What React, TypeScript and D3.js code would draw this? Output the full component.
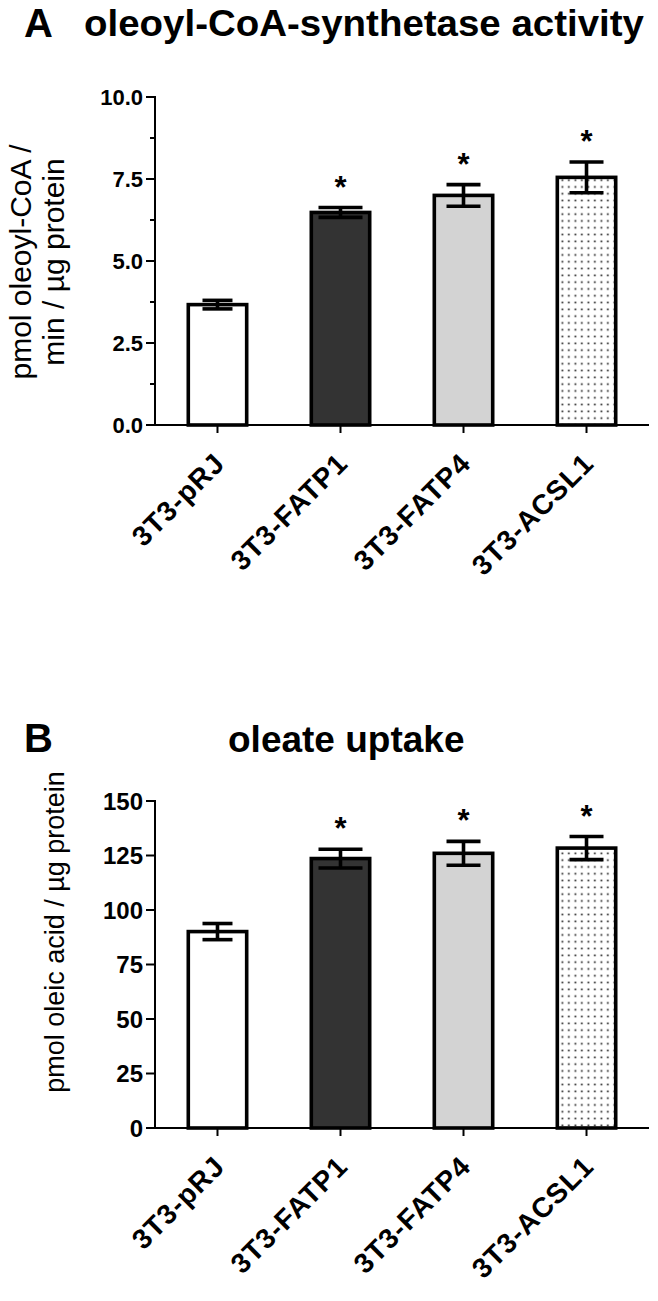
import React from 'react';
import * as d3 from 'd3';

const categories = ['3T3-pRJ', '3T3-FATP1', '3T3-FATP4', '3T3-ACSL1'];
const activityMean = [3.67, 6.48, 7.0, 7.55];
const activitySem = [0.13, 0.15, 0.33, 0.47];
const uptakeMean = [90.1, 123.6, 126.0, 128.4];
const uptakeSem = [3.7, 4.3, 5.5, 5.3];
const significant = [false, true, true, true];
const activityTicks = [0, 2.5, 5, 7.5, 10];
const activityMinorTicks = [1.25, 3.75, 6.25, 8.75];
const uptakeTicks = [0, 25, 50, 75, 100, 125, 150];

const fills = ['#ffffff', '#333333', '#d3d3d3', 'url(#dots)'];
const capWidths = [30, 44, 34, 34];
const FONT = 'Arial, "Liberation Sans", Helvetica, sans-serif';
const W = 658;
const H = 1301;

type PanelProps = {
  mean: number[];
  sem: number[];
  ticks: number[];
  minor: number[];
  yMax: number;
  top: number;
  bottom: number;
  fmt: (v: number) => string;
  tickFont: number;
};

function Panel({ mean, sem, ticks, minor, yMax, top, bottom, fmt, tickFont }: PanelProps) {
  const x = d3.scaleBand<string>().domain(categories).range([155, 649]).paddingInner(0.496).paddingOuter(0.256);
  const y = d3.scaleLinear().domain([0, yMax]).range([bottom, top]);
  const x0 = 155;
  const sw = 3.6;
  return (
    <g>
      {categories.map((c, i) => {
        const bx = (x(c) as number) + sw / 2;
        const bw = x.bandwidth() - sw;
        const cx = (x(c) as number) + x.bandwidth() / 2;
        const yt = y(mean[i]);
        const yHi = y(mean[i] + sem[i]);
        const yLo = y(mean[i] - sem[i]);
        const cw = capWidths[i];
        return (
          <g key={c}>
            <rect x={bx} y={yt} width={bw} height={y(0) - yt} fill={fills[i]} stroke="#000" strokeWidth={sw} />
            <line x1={cx} x2={cx} y1={yHi} y2={yLo} stroke="#000" strokeWidth={sw} />
            <line x1={cx - cw / 2} x2={cx + cw / 2} y1={yHi} y2={yHi} stroke="#000" strokeWidth={sw} />
            <line x1={cx - cw / 2} x2={cx + cw / 2} y1={yLo} y2={yLo} stroke="#000" strokeWidth={sw} />
            {significant[i] && (
              <text x={cx} y={yHi - 10} textAnchor="middle" fontFamily={FONT} fontWeight="bold" fontSize={31}>*</text>
            )}
          </g>
        );
      })}
      {/* y axis */}
      <line x1={x0} x2={x0} y1={top - 1} y2={bottom} stroke="#000" strokeWidth={2} />
      {ticks.map((t) => (
        <g key={'t' + t}>
          <line x1={x0 - 9} x2={x0} y1={y(t)} y2={y(t)} stroke="#000" strokeWidth={2} />
          <text x={x0 - 12} y={y(t)} dy="0.36em" textAnchor="end" fontFamily={FONT} fontWeight="bold" fontSize={tickFont}>
            {fmt(t)}
          </text>
        </g>
      ))}
      {minor.map((t) => (
        <line key={'m' + t} x1={x0 - 5} x2={x0} y1={y(t)} y2={y(t)} stroke="#000" strokeWidth={2} />
      ))}
      {/* x axis */}
      <line x1={x0} x2={649} y1={bottom} y2={bottom} stroke="#000" strokeWidth={2} />
      {categories.map((c) => {
        const cx = (x(c) as number) + x.bandwidth() / 2;
        return (
          <g key={'x' + c}>
            <line x1={cx} x2={cx} y1={bottom} y2={bottom + 8} stroke="#000" strokeWidth={2} />
            <text
              transform={`translate(${cx + 9},${bottom + 40}) rotate(-45)`}
              textAnchor="end"
              fontFamily={FONT}
              fontWeight="bold"
              fontSize={28}
              letterSpacing={1}
            >
              {c}
            </text>
          </g>
        );
      })}
    </g>
  );
}

export default function App() {
  return (
    <svg width={W} height={H} viewBox={`0 0 ${W} ${H}`} style={{ position: 'absolute', left: 0, top: 0, background: '#fff' }}>
      <defs>
        <pattern id="dots" width={6.5} height={6.8} patternUnits="userSpaceOnUse">
          <rect width={6.5} height={6.8} fill="#fff" />
          <rect x={2.5} y={2.5} width={1.7} height={1.7} fill="#222" />
        </pattern>
      </defs>
      <rect width={W} height={H} fill="#fff" />
      {/* Panel A titles */}
      <text x={24} y={37} fontFamily={FONT} fontWeight="bold" fontSize={40}>A</text>
      <text x={84} y={36} fontFamily={FONT} fontWeight="bold" fontSize={37} textLength={560} lengthAdjust="spacingAndGlyphs">
        oleoyl-CoA-synthetase activity
      </text>
      <g transform="translate(0,262) rotate(-90)">
        <text x={0} y={31} textAnchor="middle" fontFamily={FONT} fontSize={30}>pmol oleoyl-CoA /</text>
        <text x={0} y={64} textAnchor="middle" fontFamily={FONT} fontSize={30}>min / µg protein</text>
      </g>
      <Panel
        mean={activityMean}
        sem={activitySem}
        ticks={activityTicks}
        minor={activityMinorTicks}
        yMax={10}
        top={97}
        bottom={425}
        fmt={d3.format('.1f')}
        tickFont={22}
      />
      {/* Panel B */}
      <text x={24} y={752} fontFamily={FONT} fontWeight="bold" fontSize={40}>B</text>
      <text x={228} y={752} fontFamily={FONT} fontWeight="bold" fontSize={37}>
        oleate uptake
      </text>
      <g transform="translate(0,932) rotate(-90)">
        <text x={0} y={64} textAnchor="middle" fontFamily={FONT} fontSize={27}>pmol oleic acid / µg protein</text>
      </g>
      <Panel
        mean={uptakeMean}
        sem={uptakeSem}
        ticks={uptakeTicks}
        minor={[]}
        yMax={150}
        top={801}
        bottom={1128}
        fmt={d3.format('d')}
        tickFont={24}
      />
    </svg>
  );
}
